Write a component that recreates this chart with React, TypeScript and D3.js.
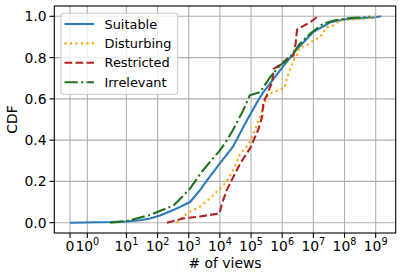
import React from 'react';
import * as d3 from 'd3';

// CDF of view counts per video class
const suitableViews = [0, 3, 10, 28, 57, 120, 320, 1100, 2300, 3900, 1e4, 2.6e4, 7.4e4, 1.7e5, 2.5e5, 8.5e5, 3.0e6, 9.8e6, 3.5e7, 1.2e8, 8.3e8, 1.5e9];
const suitableCdf = [0, 0.003, 0.006, 0.012, 0.02, 0.035, 0.061, 0.1, 0.158, 0.206, 0.287, 0.367, 0.496, 0.593, 0.633, 0.738, 0.842, 0.923, 0.971, 0.987, 0.994, 1.0];

const disturbingViews = [415, 870, 2300, 4900, 7900, 1.02e4, 1.66e4, 2.7e4, 4.5e4, 8.3e4, 1.35e5, 2.25e5, 3.5e5, 5.2e5, 7.4e5, 1.2e6, 1.4e6, 1.8e6, 2.3e6, 2.9e6, 3.7e6, 6.1e6, 9.8e6, 1.65e7, 2.7e7, 4.4e7, 7.2e7, 1.2e8, 4.0e8, 8.5e8, 1e9];
const disturbingCdf = [0, 0.045, 0.078, 0.118, 0.15, 0.165, 0.2, 0.255, 0.335, 0.379, 0.45, 0.54, 0.62, 0.633, 0.641, 0.654, 0.698, 0.746, 0.786, 0.81, 0.85, 0.858, 0.883, 0.899, 0.947, 0.955, 0.98, 0.983, 0.988, 0.995, 1.0];

const restrictedViews = [200, 680, 2300, 9800, 1.15e4, 1.66e4, 2.7e4, 4.5e4, 9.3e4, 1.75e5, 2.25e5, 2.5e5, 3.2e5, 4.7e5, 5.4e5, 8.5e5, 1.45e6, 2.3e6, 2.7e6, 3.0e6, 4.4e6, 7.9e6, 1.4e7];
const restrictedCdf = [0, 0.021, 0.03, 0.045, 0.09, 0.158, 0.222, 0.287, 0.36, 0.455, 0.512, 0.585, 0.617, 0.68, 0.745, 0.765, 0.794, 0.81, 0.87, 0.935, 0.95, 0.971, 1.0];

const irrelevantViews = [3, 10, 57, 320, 570, 1100, 2300, 4800, 1e4, 1.7e4, 2.6e4, 5.6e4, 9.1e4, 1.95e5, 4.1e5, 8.5e5, 1.8e6, 3.7e6, 7.8e6, 2.0e7, 4.3e7, 1.5e8, 5.8e8, 6.6e8];
const irrelevantCdf = [0, 0.008, 0.037, 0.083, 0.12, 0.165, 0.235, 0.295, 0.35, 0.4, 0.448, 0.544, 0.617, 0.633, 0.705, 0.762, 0.802, 0.867, 0.915, 0.963, 0.979, 0.992, 0.996, 1.0];

const seriesNames = ['Suitable', 'Disturbing', 'Restricted', 'Irrelevant'];
const xTickValues = [0, 1, 1e1, 1e2, 1e3, 1e4, 1e5, 1e6, 1e7, 1e8, 1e9];
const yTickValues = [0, 0.2, 0.4, 0.6, 0.8, 1.0];

// symlog with linthresh 2, linscale 1 (matplotlib style)
const LINTHRESH = 2;
const LINSCALE = 1 / (1 - 1 / 10);
const symlog = (v: number) =>
  v <= LINTHRESH ? v * LINSCALE : LINTHRESH * (LINSCALE + Math.log10(v / LINTHRESH));

const styles = [
  { color: '#2b7bba', dash: null, width: 2.1 },
  { color: '#ffa500', dash: '2.1,3.4', width: 2.1 },
  { color: '#b22222', dash: '7.7,3.3', width: 2.1 },
  { color: '#1f731f', dash: '13.3,3.3,2.1,3.3', width: 2.1 },
];

const font = 'DejaVu Sans, sans-serif';

const App = () => {
  const width = 407;
  const height = 275;
  const left = 54.3;
  const right = 395.7;
  const top = 6;
  const bottom = 233;

  const xs = d3.scaleLinear().domain([-1.008, 20.905]).range([left, right]);
  const x = (v: number) => xs(symlog(v));
  const y = d3.scaleLinear().domain([-0.05, 1.05]).range([bottom, top]);

  const series = [
    { views: suitableViews, cdf: suitableCdf },
    { views: disturbingViews, cdf: disturbingCdf },
    { views: restrictedViews, cdf: restrictedCdf },
    { views: irrelevantViews, cdf: irrelevantCdf },
  ];

  const line = d3.line<[number, number]>()
    .x((d) => x(d[0]))
    .y((d) => y(d[1]));

  const legendX = 61;
  const legendY = 13.3;

  return (
    <svg width={width} height={height} style={{ position: 'absolute', left: 0, top: 0, background: '#fff' }}>
      <defs>
        <clipPath id="plot">
          <rect x={left} y={top} width={right - left} height={bottom - top} />
        </clipPath>
      </defs>
      {/* grid */}
      <g stroke="#b0b0b0" strokeWidth={1.1}>
        {xTickValues.map((t) => (
          <line key={'gx' + t} x1={x(t)} x2={x(t)} y1={top} y2={bottom} />
        ))}
        {yTickValues.map((t) => (
          <line key={'gy' + t} x1={left} x2={right} y1={y(t)} y2={y(t)} />
        ))}
      </g>
      {/* curves */}
      <g clipPath="url(#plot)" fill="none">
        {series.map((s, i) => (
          <path
            key={seriesNames[i]}
            d={line(s.views.map((v, j) => [v, s.cdf[j]] as [number, number])) || ''}
            stroke={styles[i].color}
            strokeWidth={styles[i].width}
            strokeDasharray={styles[i].dash || undefined}
          />
        ))}
      </g>
      {/* spines */}
      <rect x={left} y={top} width={right - left} height={bottom - top} fill="none" stroke="#000" strokeWidth={1.1} />
      {/* x ticks */}
      <g fontFamily={font} fontSize={13.9} fill="#000">
        {xTickValues.map((t) => (
          <g key={'xt' + t}>
            <line x1={x(t)} x2={x(t)} y1={bottom} y2={bottom + 4.9} stroke="#000" strokeWidth={1.1} />
            {t === 0 ? (
              <text x={x(t)} y={250.5} textAnchor="middle">0</text>
            ) : (
              <text x={x(t)} y={250.5} textAnchor="middle">
                10
                <tspan fontSize={9.7} dy={-6}>{Math.round(Math.log10(t))}</tspan>
              </text>
            )}
          </g>
        ))}
        {yTickValues.map((t) => (
          <g key={'yt' + t}>
            <line x1={left - 4.9} x2={left} y1={y(t)} y2={y(t)} stroke="#000" strokeWidth={1.1} />
            <text x={46.5} y={y(t)} dy="0.36em" textAnchor="end">{t.toFixed(1)}</text>
          </g>
        ))}
        <text x={(left + right) / 2} y={268} textAnchor="middle">
          # of views
        </text>
        <text transform={`translate(16.5, ${(top + bottom) / 2}) rotate(-90)`} textAnchor="middle">
          CDF
        </text>
      </g>
      {/* legend */}
      <g fontFamily={font} fontSize={12.9}>
        <rect x={legendX} y={legendY} width={116.7} height={81} rx={2.8} fill="#fff" fillOpacity={0.8} stroke="#cccccc" strokeWidth={1.1} />
        {seriesNames.map((name, i) => {
          const ly = 24 + i * 19.4;
          return (
            <g key={'lg' + name}>
              <line x1={64.5} x2={94} y1={ly} y2={ly} stroke={styles[i].color} strokeWidth={styles[i].width} strokeDasharray={styles[i].dash || undefined} />
              <text x={104.5} y={ly} dy="0.36em" fill="#000">{name}</text>
            </g>
          );
        })}
      </g>
    </svg>
  );
};

export default App;
